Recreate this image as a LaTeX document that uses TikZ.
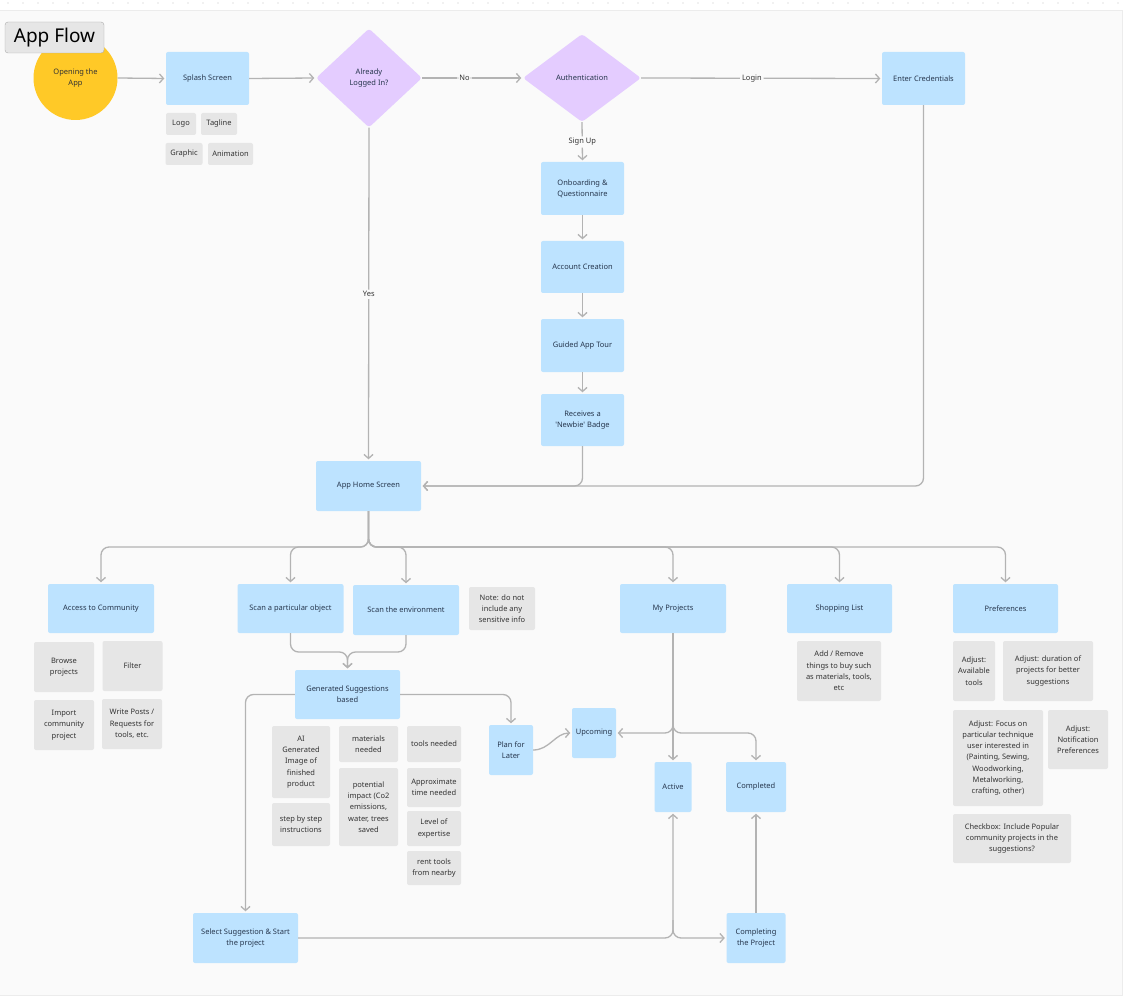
\documentclass[tikz,border=0pt]{standalone}
\usepackage{fontspec}
\setmainfont{Noto Sans}
\usetikzlibrary{arrows.meta,shapes.geometric}
\definecolor{bluebox}{HTML}{BDE3FF}
\definecolor{graybox}{HTML}{E6E6E6}
\definecolor{purp}{HTML}{E4CCFF}
\definecolor{yel}{HTML}{FFC927}
\definecolor{lineg}{HTML}{B3B3B3}
\definecolor{panel}{HTML}{FAFAFA}
\definecolor{txt}{HTML}{333333}
\definecolor{btxt}{HTML}{26364D}
\begin{document}
\begin{tikzpicture}[x=1pt,y=-1pt,
  bbox/.style={fill=bluebox, rounded corners=2pt, inner sep=1pt, align=center, font=\fontsize{7.5}{11}\selectfont, text=btxt},
  gbox/.style={fill=graybox, rounded corners=2pt, inner sep=1pt, align=center, font=\fontsize{7.5}{11.3}\selectfont, text=txt},
  dia/.style={diamond, fill=purp, rounded corners=3pt, inner sep=0pt, align=center, font=\fontsize{7.5}{11}\selectfont, text=btxt},
  conn/.style={draw=lineg, line width=1.3pt, -{Straight Barb[length=4pt,width=9pt]}, shorten >=1.5pt, rounded corners=8pt},
  lbl/.style={fill=panel, inner sep=2pt, font=\fontsize{7.5}{9}\selectfont, text=txt},
]
\useasboundingbox (0,0) rectangle (1124,1000);
\fill[white] (0,0) rectangle (1124,1000);
\foreach \i in {0,...,74} \fill[gray!45] (8+\i*15,3) circle (0.6);
\filldraw[fill=panel, draw=gray!15] (-2,10) rectangle (1122,995);

% top row
\node[circle, fill=yel, minimum size=84, inner sep=0pt, align=center, font=\fontsize{7.5}{11}\selectfont, text=txt] (open) at (75.5,78) {Opening the\\App};
\node[fill=graybox, draw=gray!65, rounded corners=3pt, minimum width=99, minimum height=31, inner sep=0pt, font=\fontsize{19}{22}\selectfont, text=black] (title) at (54.5,37.5) {App Flow};
\node[bbox, minimum width=83, minimum height=53] (splash) at (207.5,78.5) {Splash Screen};
\node[gbox, minimum width=30, minimum height=22] (logo) at (181,124) {Logo};
\node[gbox, minimum width=36, minimum height=22] (tag) at (219,124) {Tagline};
\node[gbox, minimum width=37, minimum height=22] (graphic) at (184,154) {Graphic};
\node[gbox, minimum width=45, minimum height=22] (anim) at (230.5,154) {Animation};
\node[dia, minimum width=106, minimum height=99] (ald) at (369,78) {Already\\Logged In?};
\node[dia, minimum width=118, minimum height=88] (auth) at (582,78) {Authentication};
\node[bbox, minimum width=83, minimum height=53] (cred) at (923.5,78.5) {Enter Credentials};

% onboarding chain
\node[bbox, minimum width=83, minimum height=53] (onb) at (582.5,188.5) {Onboarding \&\\Questionnaire};
\node[bbox, minimum width=83, minimum height=52] (acct) at (582.5,267) {Account Creation};
\node[bbox, minimum width=83, minimum height=53] (tour) at (582.5,345.5) {Guided App Tour};
\node[bbox, minimum width=83, minimum height=52] (newb) at (582.5,420) {Receives a\\\textquotesingle Newbie\textquotesingle{} Badge};

\node[bbox, minimum width=105, minimum height=50] (home) at (368.5,486) {App Home Screen};

% second row
\node[bbox, minimum width=106, minimum height=49] (acc) at (101,608.5) {Access to Community};
\node[bbox, minimum width=106, minimum height=49] (sobj) at (290.5,608.5) {Scan a particular object};
\node[bbox, minimum width=106, minimum height=50] (senv) at (406,610) {Scan the environment};
\node[gbox, minimum width=66, minimum height=43] (note) at (502,608.5) {Note: do not\\include any\\sensitive info};
\node[bbox, minimum width=106, minimum height=49] (myp) at (673,608.5) {My Projects};
\node[bbox, minimum width=105, minimum height=49] (shop) at (839.5,608.5) {Shopping List};
\node[bbox, minimum width=105, minimum height=49] (pref) at (1005.5,608.5) {Preferences};

% community children
\node[gbox, minimum width=60, minimum height=50] (browse) at (64,667) {Browse\\projects};
\node[gbox, minimum width=60, minimum height=50] (filter) at (132.5,666) {Filter};
\node[gbox, minimum width=60, minimum height=50] (import) at (64,725) {Import\\community\\project};
\node[gbox, minimum width=60, minimum height=50] (write) at (132,724) {Write Posts /\\Requests for\\tools, etc.};

% suggestions
\node[bbox, minimum width=105, minimum height=49] (gen) at (347.5,694.5) {Generated Suggestions\\based};
\node[gbox, minimum width=58, minimum height=72] (ai) at (301,762) {AI\\Generated\\Image of\\finished\\product};
\node[gbox, minimum width=58, minimum height=43] (stepi) at (301,824.5) {step by step\\instructions};
\node[gbox, minimum width=59, minimum height=36] (mat) at (368.5,744) {materials\\needed};
\node[gbox, minimum width=59, minimum height=78] (impact) at (368.5,807) {potential\\impact (Co2\\emissions,\\water, trees\\saved};
\node[gbox, minimum width=54, minimum height=36] (tools) at (434,744) {tools needed};
\node[gbox, minimum width=54, minimum height=39] (time) at (434,787.5) {Approximate\\time needed};
\node[gbox, minimum width=54, minimum height=35] (lvl) at (434,828.5) {Level of\\expertise};
\node[gbox, minimum width=54, minimum height=34] (rent) at (434,868) {rent tools\\from nearby};

\node[bbox, minimum width=44, minimum height=50] (plan) at (511,750) {Plan for\\Later};
\node[bbox, minimum width=44, minimum height=50] (up) at (594,733) {Upcoming};
\node[bbox, minimum width=37, minimum height=50] (act) at (673,787) {Active};
\node[bbox, minimum width=60, minimum height=50] (cmp) at (756,787) {Completed};
\node[bbox, minimum width=59, minimum height=50] (cing) at (756,938) {Completing\\the Project};
\node[bbox, minimum width=105, minimum height=50] (sel) at (245.5,938) {Select Suggestion \& Start\\the project};

% shopping and preferences children
\node[gbox, minimum width=84, minimum height=60] (shopc) at (839,671) {Add / Remove\\things to buy such\\as materials, tools,\\etc};
\node[gbox, minimum width=42, minimum height=60] (avail) at (974,671) {Adjust:\\Available\\tools};
\node[gbox, minimum width=90, minimum height=60] (dur) at (1048,671) {Adjust: duration of\\projects for better\\suggestions};
\node[gbox, minimum width=90, minimum height=96] (focus) at (998,758) {Adjust: Focus on\\particular technique\\user interested in\\(Painting, Sewing,\\Woodworking,\\Metalworking,\\crafting, other)};
\node[gbox, minimum width=60, minimum height=59] (notif) at (1078,739.5) {Adjust:\\Notification\\Preferences};
\node[gbox, minimum width=118, minimum height=49] (check) at (1012,838.5) {Checkbox: Include Popular\\community projects in the\\suggestions?};

% junction coordinates
\coordinate (fan) at (368.5,547);
\coordinate (merge1) at (290.5,652);
\coordinate (merge2) at (406,652);
\coordinate (pj) at (673,733);
\coordinate (sj) at (673,920);

% connectors
\draw[conn] (open.east) -- (splash.west);
\draw[conn] (splash.east) -- (ald.west);
\draw[conn] (ald.east) -- node[lbl,pos=0.42]{No} (auth.west);
\draw[conn] (auth.east) -- node[lbl,pos=0.46]{Login} (cred.west);
\draw[conn] (auth.south) -- node[lbl]{Sign Up} (onb.north);
\draw[conn] (onb.south) -- (acct.north);
\draw[conn] (acct.south) -- (tour.north);
\draw[conn] (tour.south) -- (newb.north);
\draw[conn] (ald.south) -- node[lbl]{Yes} (home.north);
\draw[conn] (newb.south) |- (home.east);
\draw[conn] (cred.south) |- (home.east);
\foreach \t in {acc,sobj,senv,myp,shop,pref}
  \draw[conn] (home.south) -- (fan) -| (\t.north);
\draw[conn] (sobj.south) -- (merge1) -| (gen.north);
\draw[conn] (senv.south) -- (merge2) -| (gen.north);
\draw[conn] (gen.west) -| (sel.north);
\draw[conn] (gen.east) -| (plan.north);
\draw[conn] (plan.east) to[out=0,in=180] (up.west);
\draw[conn] (myp.south) |- (up.east);
\draw[conn] (myp.south) -- (act.north);
\draw[conn] (myp.south) -- (pj) -| (cmp.north);
\draw[conn] (sel.east) -| (act.south);
\draw[conn] (sj) |- (cing.west);
\draw[conn] (cing.north) -- (cmp.south);
\end{tikzpicture}
\end{document}
